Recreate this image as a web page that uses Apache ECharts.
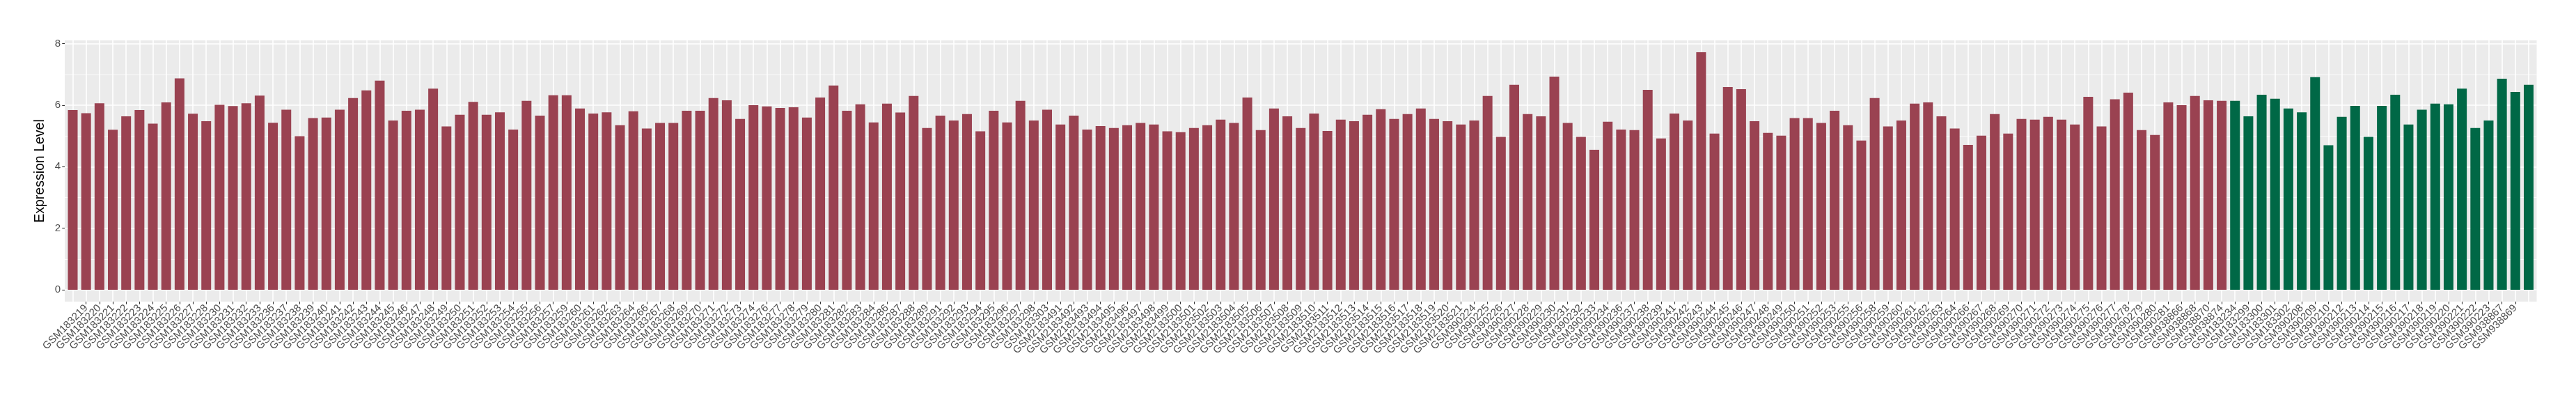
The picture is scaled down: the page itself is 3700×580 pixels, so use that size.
<!DOCTYPE html>
<html><head><meta charset="utf-8">
<script src="https://cdn.jsdelivr.net/npm/echarts@6/dist/echarts.min.js"></script>
<style>html,body{margin:0;padding:0;background:#fff}#c{width:3700px;height:580px}</style>
</head><body><div id="c"></div>
<script>
const redSamples = [
 'GSM183218','GSM183219','GSM183220','GSM183221','GSM183222','GSM183223','GSM183224','GSM183225','GSM183226','GSM183227','GSM183228','GSM183230','GSM183231','GSM183232','GSM183233','GSM183236',
 'GSM183237','GSM183238','GSM183239','GSM183240','GSM183241','GSM183242','GSM183243','GSM183244','GSM183245','GSM183246','GSM183247','GSM183248','GSM183249','GSM183250','GSM183251','GSM183252','GSM183253','GSM183254','GSM183255',
 'GSM183256','GSM183257','GSM183259','GSM183260','GSM183261','GSM183262','GSM183263','GSM183264','GSM183266','GSM183267','GSM183268','GSM183269','GSM183270','GSM183271','GSM183272','GSM183273','GSM183274','GSM183276','GSM183277',
 'GSM183278','GSM183279','GSM183280','GSM183281','GSM183282','GSM183283','GSM183284','GSM183286','GSM183287','GSM183288','GSM183289','GSM183291','GSM183292','GSM183293','GSM183294','GSM183295','GSM183296','GSM183297',
 'GSM183298','GSM183303',
 'GSM2183491','GSM2183492','GSM2183493','GSM2183494','GSM2183495','GSM2183496','GSM2183497','GSM2183498','GSM2183499','GSM2183500','GSM2183501','GSM2183502','GSM2183503','GSM2183504','GSM2183505','GSM2183506','GSM2183507',
 'GSM2183508','GSM2183509','GSM2183510','GSM2183511','GSM2183512','GSM2183513','GSM2183514','GSM2183515','GSM2183516','GSM2183517','GSM2183518','GSM2183519','GSM2183520','GSM2183521',
 'GSM390224','GSM390225','GSM390226','GSM390227','GSM390228',
 'GSM390229','GSM390230','GSM390231','GSM390232','GSM390233','GSM390234','GSM390236','GSM390237','GSM390238','GSM390239','GSM390241','GSM390242','GSM390243','GSM390244','GSM390245','GSM390246','GSM390247','GSM390248','GSM390249',
 'GSM390250','GSM390251','GSM390252','GSM390253','GSM390255','GSM390256','GSM390258','GSM390259','GSM390260','GSM390261','GSM390262','GSM390263','GSM390264','GSM390266','GSM390267','GSM390268','GSM390269','GSM390270',
 'GSM390271','GSM390272','GSM390273','GSM390274','GSM390275','GSM390276','GSM390277','GSM390278','GSM390279','GSM390280','GSM390281',
 'GSM938866','GSM938868','GSM938870','GSM938874'
];
const redValues = [
 5.84,5.74,6.06,5.20,5.64,5.84,5.40,6.09,6.87,5.72,5.48,6.01,5.97,6.06,6.31,5.43,
 5.85,4.99,5.58,5.60,5.85,6.23,6.48,6.80,5.50,5.82,5.85,6.54,5.31,5.69,6.11,5.69,5.77,5.21,6.14,
 5.66,6.32,6.32,5.89,5.73,5.77,5.35,5.80,5.24,5.42,5.42,5.82,5.82,6.23,6.16,5.55,6.00,5.96,5.91,
 5.93,5.60,6.25,6.64,5.82,6.03,5.44,6.05,5.76,6.30,5.26,5.66,5.50,5.71,5.15,5.82,5.44,6.14,
 5.50,5.85,
 5.37,5.66,5.21,5.32,5.26,5.35,5.42,5.37,5.15,5.12,5.26,5.35,5.53,5.42,6.25,5.19,5.89,
 5.64,5.26,5.73,5.16,5.53,5.48,5.69,5.87,5.55,5.71,5.89,5.55,5.48,5.37,
 5.50,6.30,4.97,6.66,5.71,
 5.64,6.93,5.42,4.97,4.55,5.46,5.21,5.19,6.50,4.92,5.73,5.50,7.72,5.08,6.59,6.52,5.48,5.10,5.01,
 5.58,5.58,5.42,5.82,5.35,4.85,6.23,5.31,5.50,6.05,6.09,5.64,5.24,4.71,5.01,5.71,5.08,5.55,
 5.53,5.62,5.53,5.37,6.27,5.31,6.19,6.41,5.19,5.03,6.09,
 6.00,6.30,6.16,6.14
];
const greenSamples = [
 'GSM183234','GSM183299','GSM183300','GSM183301','GSM183302',
 'GSM390208','GSM390209','GSM390210','GSM390212','GSM390213','GSM390214','GSM390215','GSM390216','GSM390217','GSM390218','GSM390219','GSM390220','GSM390221','GSM390222','GSM390223',
 'GSM938867','GSM938869','GSM938871'
];
const greenValues = [
 6.14,5.64,6.34,6.21,5.89,
 5.77,6.91,4.70,5.62,5.98,4.97,5.98,6.34,5.37,5.85,6.05,6.03,6.54,5.26,5.50,
 6.86,6.43,6.66
];
const yMajorTicks = [0,2,4,6,8];
const yMinorTicks = [1,3,5,7];

const RED = '#9A4251', GREEN = '#006846';
const FONT = 'Liberation Sans';
const samples = redSamples.concat(greenSamples);
const values = redValues.concat(greenValues);
const colors = redSamples.map(() => RED).concat(greenSamples.map(() => GREEN));
const idx = samples.map((_, i) => i);
const vmax = Math.max(...values);
const yMin = -0.05 * vmax, yMax = vmax * 1.05;

const gridLines = []
  .concat(yMinorTicks.map(v => ({ yAxis: v, lineStyle: { color: '#FFFFFF', width: 0.8, type: 'solid' } })))
  .concat(yMajorTicks.map(v => ({ yAxis: v, lineStyle: { color: '#FFFFFF', width: 1.6, type: 'solid' } })))
  .concat(idx.map(i => ({ xAxis: i, lineStyle: { color: '#FFFFFF', width: 1.6, type: 'solid' } })));

const chart = echarts.init(document.getElementById('c'), null, { renderer: 'canvas' });
chart.setOption({
  animation: false,
  backgroundColor: '#FFFFFF',
  grid: {
    left: 93, top: 58, width: 3550.5, height: 375,
    show: true, backgroundColor: '#EBEBEB', borderWidth: 0,
    containLabel: false, outerBoundsMode: 'none'
  },
  xAxis: {
    type: 'value', min: -0.6, max: samples.length - 1 + 0.6,
    axisLine: { show: false, onZero: false },
    splitLine: { show: false },
    axisTick: { show: true, length: 3.7, customValues: idx, lineStyle: { color: '#333333', width: 1.1 } },
    axisLabel: {
      show: true, customValues: idx, rotate: 45, margin: 7,
      padding: [15, 0, 0, 0],
      fontFamily: FONT, fontSize: 15, color: '#4D4D4D',
      formatter: v => samples[Math.round(v)]
    }
  },
  yAxis: {
    type: 'value', min: yMin, max: yMax,
    name: 'Expression Level', nameLocation: 'middle', nameGap: 14,
    nameTextStyle: { fontFamily: FONT, fontSize: 19.5, color: '#000000' },
    axisLine: { show: false, onZero: false },
    splitLine: { show: false },
    axisTick: { show: true, length: 3.7, customValues: yMajorTicks, lineStyle: { color: '#333333', width: 1.1 } },
    axisLabel: {
      show: true, customValues: yMajorTicks, margin: 6,
      fontFamily: FONT, fontSize: 15, color: '#4D4D4D'
    }
  },
  series: [
    {
      type: 'line', data: [], silent: true, z: 1,
      markLine: {
        silent: true, z: 1, animation: false,
        symbol: ['none', 'none'], label: { show: false },
        emphasis: { disabled: true },
        data: gridLines
      }
    },
    {
      type: 'bar', z: 2, barWidth: 14,
      data: idx.map(i => ({ value: [i, values[i]], itemStyle: { color: colors[i] } }))
    }
  ]
});
</script>
</body></html>
